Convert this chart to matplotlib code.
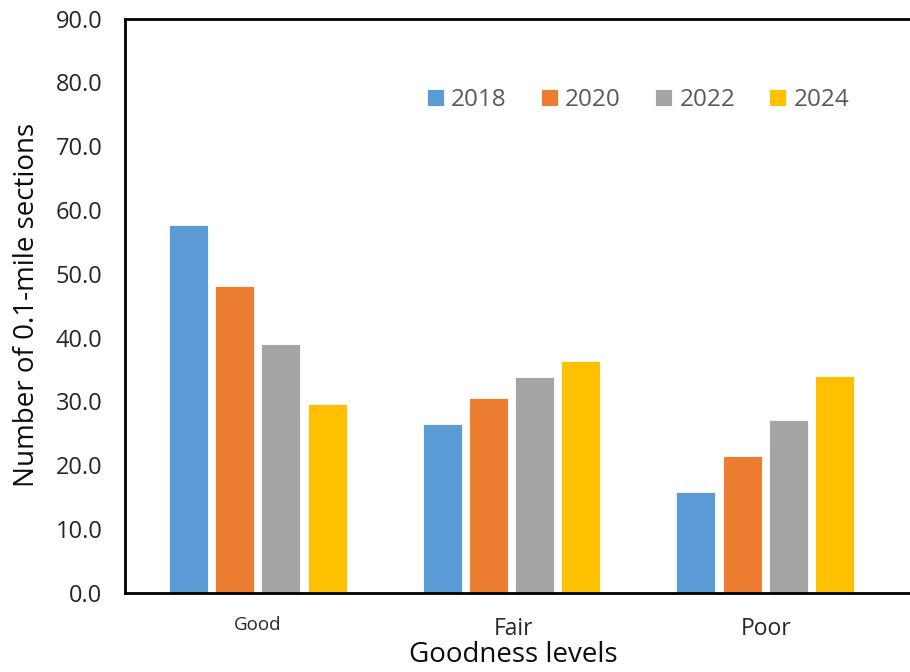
import matplotlib
matplotlib.use("Agg")
import matplotlib.pyplot as plt
import numpy as np

plt.rcParams['font.family'] = ['Open Sans', 'DejaVu Sans']

categories = ["Good", "Fair", "Poor"]
years = ["2018", "2020", "2022", "2024"]
values_2018 = [57.6, 26.4, 15.8]
values_2020 = [48.1, 30.5, 21.4]
values_2022 = [39.0, 33.8, 27.1]
values_2024 = [29.6, 36.3, 34.0]
colors = ["#5B9BD5", "#ED7D31", "#A5A5A5", "#FFC000"]
yticks = np.arange(0, 91, 10)

series = [values_2018, values_2020, values_2022, values_2024]

W, H = 910, 672
fig = plt.figure(figsize=(W / 100, H / 100), dpi=100)
left, bottom, top = 124.7, 592.7, 18.7
ax = fig.add_axes([left / W, 1 - bottom / H, 1 - left / W + 0.01, (bottom - top) / H])

x = np.arange(len(categories))
slot = 0.182
width = 0.154
for i, (vals, col, yr) in enumerate(zip(series, colors, years)):
    ax.bar(x + (i - 1.5) * slot, vals, width=width, color=col, label=yr,
           edgecolor="white", linewidth=0.6, zorder=2)

ax.set_xlim(-0.525, 2.567 + 0.04)
ax.set_ylim(0, 90)
ax.set_yticks(yticks)
ax.set_yticklabels([f"{v:.1f}" for v in yticks], fontsize=17, color="#262626")
ax.tick_params(axis="y", length=0, pad=16)
ax.tick_params(axis="x", length=0)
ax.set_xticks(x)
ax.set_xticklabels([])

for s in ["left", "bottom", "top"]:
    ax.spines[s].set_linewidth(2)
    ax.spines[s].set_color("black")
ax.spines["right"].set_visible(False)

# category labels
fig.text(258 / W, 1 - 625 / H, "Good", fontsize=13.5, ha="center", va="center", color="#262626")
fig.text(514 / W, 1 - 629 / H, "Fair", fontsize=16.5, ha="center", va="center", color="#262626")
fig.text(766 / W, 1 - 629 / H, "Poor", fontsize=16.5, ha="center", va="center", color="#262626")

fig.text(513 / W, 1 - 655 / H, "Goodness levels", fontsize=20, ha="center", va="center", color="#0d0d0d")
fig.text(27 / W, 1 - 305 / H, "Number of 0.1-mile sections", fontsize=20, rotation=90,
         ha="center", va="center", color="#0d0d0d")

leg = ax.legend(loc="center", bbox_to_anchor=((638 - left) / (W - left + 9), 1 - (100 - top) / (bottom - top)),
                ncol=4, frameon=False, fontsize=17.5, handlelength=0.7, handleheight=0.7,
                handletextpad=0.3, columnspacing=1.4, labelcolor="#595959")

fig.savefig("out.png", dpi=100)
